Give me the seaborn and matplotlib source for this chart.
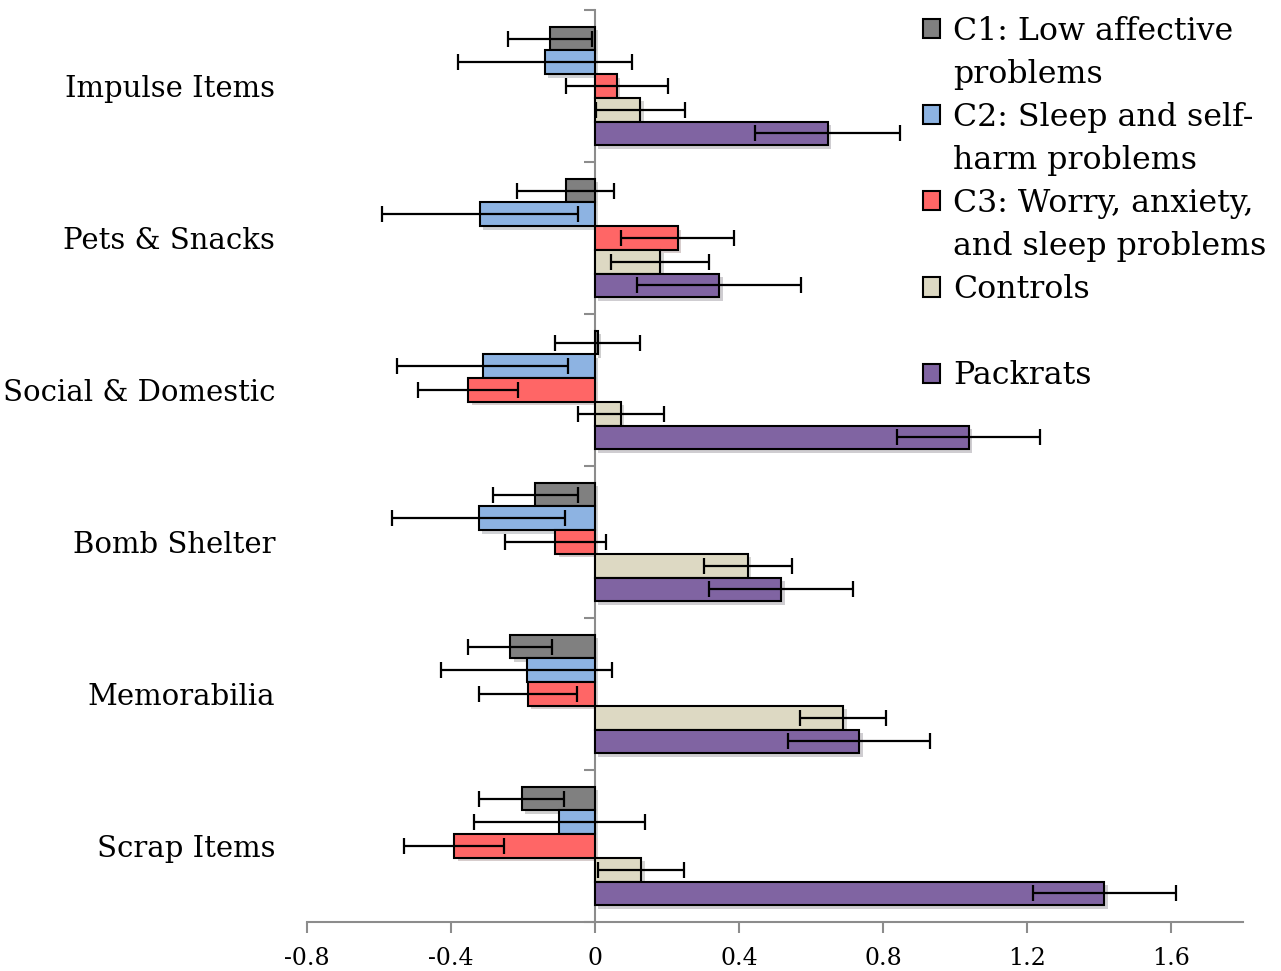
import numpy as np
import pandas as pd
import matplotlib
matplotlib.use("Agg")
import matplotlib.pyplot as plt
import matplotlib.patheffects as pe
from matplotlib.patches import Patch
from matplotlib.ticker import FuncFormatter
import seaborn as sns

# ---- data --------------------------------------------------------------
CATEGORIES = ["Impulse Items", "Pets & Snacks", "Social & Domestic",
              "Bomb Shelter", "Memorabilia", "Scrap Items"]
GROUPS = ["C1", "C2", "C3", "Controls", "Packrats"]

C1_MEAN = [-0.125, -0.082, 0.008, -0.166, -0.236, -0.204]
C1_ERR = [0.117, 0.135, 0.118, 0.118, 0.117, 0.117]
C2_MEAN = [-0.139, -0.320, -0.312, -0.323, -0.190, -0.099]
C2_ERR = [0.241, 0.272, 0.238, 0.240, 0.237, 0.237]
C3_MEAN = [0.061, 0.230, -0.352, -0.110, -0.187, -0.391]
C3_ERR = [0.141, 0.157, 0.139, 0.140, 0.136, 0.139]
CTRL_MEAN = [0.126, 0.181, 0.072, 0.424, 0.689, 0.128]
CTRL_ERR = [0.123, 0.137, 0.120, 0.122, 0.120, 0.120]
PACK_MEAN = [0.646, 0.345, 1.038, 0.518, 0.734, 1.415]
PACK_ERR = [0.202, 0.227, 0.198, 0.200, 0.197, 0.198]

MEANS = [C1_MEAN, C2_MEAN, C3_MEAN, CTRL_MEAN, PACK_MEAN]
ERRS = [C1_ERR, C2_ERR, C3_ERR, CTRL_ERR, PACK_ERR]

COLORS = ["#808080", "#8DB3E2", "#FF6666", "#DDD9C3", "#8064A2"]
LEGEND_LINES = [["C1: Low affective", "problems"],
                ["C2: Sleep and self-", "harm problems"],
                ["C3: Worry, anxiety,", "and sleep problems"],
                ["Controls", " "],
                ["Packrats"]]

XTICKS = [-0.8, -0.4, 0.0, 0.4, 0.8, 1.2, 1.6]

df = pd.DataFrame([(c, g, m[i]) for g, m in zip(GROUPS, MEANS)
                   for i, c in enumerate(CATEGORIES)],
                  columns=["category", "group", "value"])

# ---- style ----------------------------------------------------------------
sns.set_theme(style="white")
plt.rcParams["font.family"] = ["DejaVu Serif"]
plt.rcParams["text.color"] = "black"
AXIS_GREY = "#8c8c8c"

fig, ax = plt.subplots(figsize=(12.81, 9.71), dpi=100)
fig.subplots_adjust(left=0.2397, right=0.9703, bottom=0.0505, top=0.9897)

sns.barplot(data=df, y="category", x="value", hue="group", orient="h",
            order=CATEGORIES, hue_order=GROUPS, palette=COLORS,
            errorbar=None, width=0.78, edgecolor="black", linewidth=1.5,
            saturation=1, legend=False, ax=ax)

# soft drop shadow like the original
for p in ax.patches:
    p.set_path_effects([pe.SimplePatchShadow(offset=(2.5, -2.5), alpha=0.22),
                        pe.Normal()])

# error bars at the positions seaborn gave the bars
for cont, m, e in zip(ax.containers, MEANS, ERRS):
    ys = [p.get_y() + p.get_height() / 2 for p in cont]
    ax.errorbar(m, ys, xerr=e, fmt="none", ecolor="black", elinewidth=1.6,
                capsize=6, capthick=1.6, zorder=4)

ax.set_xlim(-0.8, 1.8)
ax.set_ylim(len(CATEGORIES) - 0.5, -0.5)
ax.set_xticks(XTICKS)
ax.xaxis.set_major_formatter(FuncFormatter(lambda v, _: f"{round(v, 1):g}"))
ax.set(xlabel="", ylabel="")

for s in ["top", "right", "left"]:
    ax.spines[s].set_visible(False)
ax.spines["bottom"].set_color(AXIS_GREY)
ax.spines["bottom"].set_linewidth(1.5)
ax.tick_params(axis="x", direction="out", length=8, width=1.5,
               color=AXIS_GREY, labelcolor="black", labelsize=17, pad=10,
               bottom=True)
ax.tick_params(axis="y", length=0, labelsize=21, pad=23, labelcolor="black")

# vertical axis through zero with ticks at category boundaries
sec = ax.secondary_yaxis(0, transform=ax.transData)
sec.set_yticks(np.arange(-0.5, len(CATEGORIES), 1.0))
sec.tick_params(direction="out", length=8, width=1.5, color=AXIS_GREY,
                labelleft=False, labelright=False)
for s in sec.spines.values():
    s.set_color(AXIS_GREY)
    s.set_linewidth(1.5)

# legend: Excel-style wrapped labels with the swatch on the first line
handles, labels = [], []
for color, lines in zip(COLORS, LEGEND_LINES):
    for k, line in enumerate(lines):
        if k == 0:
            handles.append(Patch(facecolor=color, edgecolor="black", linewidth=1.5))
        else:
            handles.append(Patch(facecolor="none", edgecolor="none"))
        labels.append(line)
fig.legend(handles, labels, loc="upper left",
           bbox_to_anchor=(923 / 1281, 1 - 16 / 971), frameon=False,
           fontsize=22.8, labelcolor="black", handlelength=0.55,
           handleheight=0.55, handletextpad=0.4, labelspacing=0.38,
           borderpad=0, borderaxespad=0)

plt.savefig("out.png", dpi=100)
plt.close()
